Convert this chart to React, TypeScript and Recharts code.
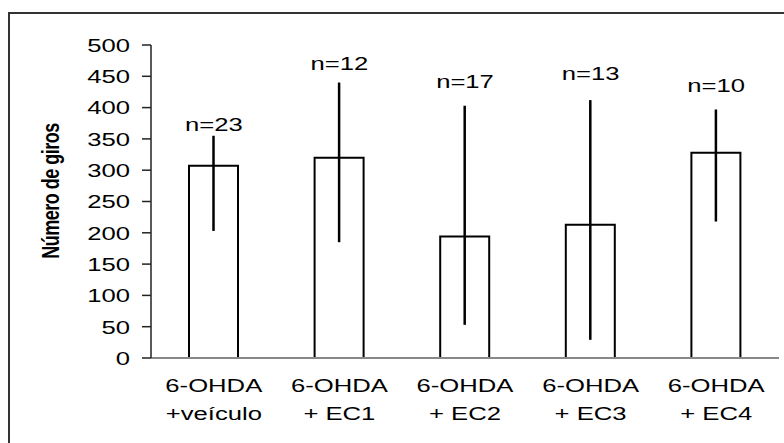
import { Bar, ComposedChart, ErrorBar, LabelList, Line, XAxis, YAxis } from 'recharts'

const groupTop = ['6-OHDA', '6-OHDA', '6-OHDA', '6-OHDA', '6-OHDA']
const groupBottom = ['+veículo', '+ EC1', '+ EC2', '+ EC3', '+ EC4']
const means = [307, 320, 194, 213, 328]
const upper = [355, 440, 403, 412, 397]
const lower = [203, 185, 53, 29, 218]
const nCounts = [23, 12, 17, 13, 10]
const nLabelLevel = [374, 471, 443, 455, 436]
const yTicks = [0, 50, 100, 150, 200, 250, 300, 350, 400, 450, 500]
const edgeTicks = [0, 1, 2, 3, 4, 5]

const FONT = '"Liberation Sans", Arial, sans-serif'
const STRETCH = 1.35

const data = means.map((m, i) => ({
  name: groupBottom[i],
  mean: m,
  err: [m - lower[i], upper[i] - m],
  n: `n=${nCounts[i]}`,
  level: nLabelLevel[i],
}))

function YTick({ x, y, payload }: any) {
  return (
    <text
      transform={`translate(${x},${y}) scale(${STRETCH},1)`}
      textAnchor="end"
      dy="0.36em"
      fontSize={19}
      fontFamily={FONT}
      fill="#000"
    >
      {payload.value}
    </text>
  )
}

function XTick({ x, y, payload, index }: any) {
  return (
    <g transform={`translate(${x},${y})`}>
      <text transform={`scale(${STRETCH},1)`} textAnchor="middle" fontSize={19} fontFamily={FONT} fill="#000">
        <tspan x={0} dy={26}>{groupTop[index]}</tspan>
        <tspan x={0} dy={28}>{payload.value}</tspan>
      </text>
    </g>
  )
}

function NLabel({ x, y, value }: any) {
  return (
    <text
      transform={`translate(${x},${y}) scale(${STRETCH},1)`}
      textAnchor="middle"
      dy="0.36em"
      fontSize={19}
      fontFamily={FONT}
      fill="#000"
    >
      {value}
    </text>
  )
}

function YLabel() {
  return (
    <text
      transform={`translate(50,191) rotate(-90) scale(1,${STRETCH})`}
      textAnchor="middle"
      dy="0.36em"
      fontSize={18}
      fontWeight="bold"
      letterSpacing={-0.5}
      fontFamily={FONT}
      fill="#000"
    >
      Número de giros
    </text>
  )
}

export default function App() {
  return (
    <div style={{ position: 'absolute', left: 0, top: 0, width: 784, height: 443, overflow: 'hidden', background: '#fff' }}>
      <div
        style={{
          position: 'absolute',
          left: 8,
          top: 12,
          width: 820,
          height: 480,
          border: '2px solid #333',
        }}
      />
      <div style={{ position: 'absolute', left: 0, top: 0 }}>
        <ComposedChart width={784} height={443} data={data} margin={{ top: 45, right: 5, bottom: 0, left: 0 }}>
          <XAxis
            xAxisId="edges"
            type="number"
            domain={[0, 5]}
            ticks={edgeTicks}
            tickFormatter={() => ''}
            axisLine={false}
            tickLine={{ stroke: '#333', strokeWidth: 1.5 }}
            tickSize={7}
            height={0}
          />
          <XAxis
            dataKey="name"
            height={85}
            interval={0}
            tick={<XTick />}
            tickLine={false}
            axisLine={{ stroke: '#888', strokeWidth: 2 }}
          />
          <YAxis
            domain={[0, 500]}
            ticks={yTicks}
            width={151}
            tickSize={9}
            tickMargin={12}
            tick={<YTick />}
            axisLine={{ stroke: '#222', strokeWidth: 1.5 }}
            tickLine={{ stroke: '#222', strokeWidth: 1.5 }}
            label={<YLabel />}
          />
          <Bar dataKey="mean" fill="#fff" stroke="#000" strokeWidth={2} barSize={49} isAnimationActive={false}>
            <ErrorBar dataKey="err" direction="y" width={0} stroke="#000" strokeWidth={2.5} />
          </Bar>
          <Line dataKey="level" stroke="none" dot={false} activeDot={false} isAnimationActive={false}>
            <LabelList dataKey="n" content={<NLabel />} />
          </Line>
        </ComposedChart>
      </div>
    </div>
  )
}
